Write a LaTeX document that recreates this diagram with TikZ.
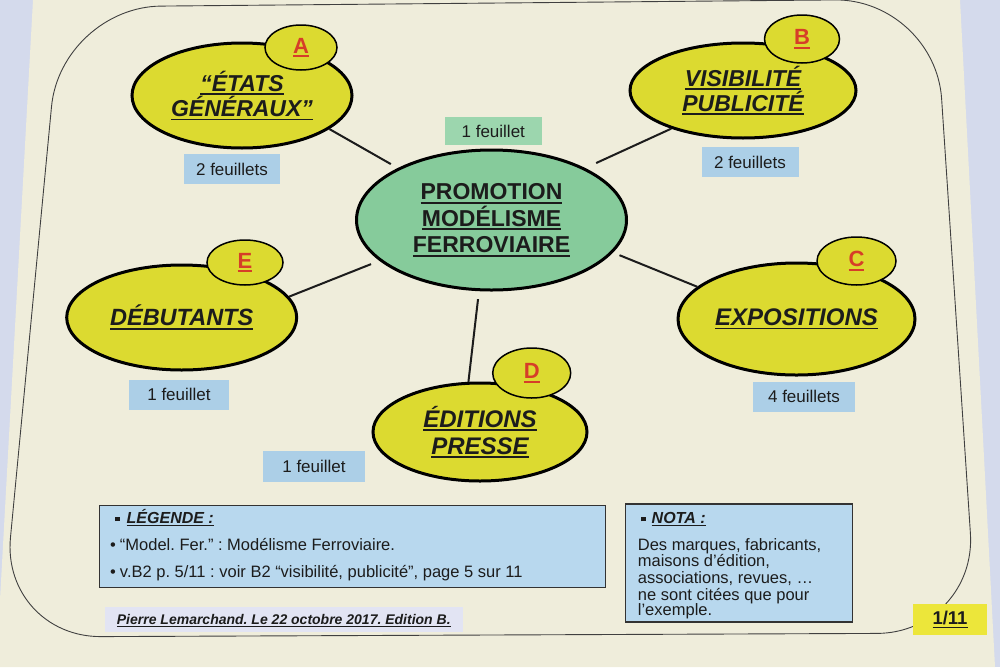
\documentclass[tikz,border=0pt]{standalone}
\usepackage{fontspec}
\setmainfont{Liberation Sans}
\usetikzlibrary{shapes.geometric}
\frenchspacing
\definecolor{paper}{RGB}{239,237,219}
\definecolor{bgblue}{RGB}{212,218,236}
\definecolor{ellyellow}{RGB}{220,218,48}
\definecolor{ellgreen}{RGB}{134,203,155}
\definecolor{lblblue}{RGB}{172,207,231}
\definecolor{lblgreen}{RGB}{156,214,174}
\definecolor{boxblue}{RGB}{184,216,238}
\definecolor{footbox}{RGB}{226,228,243}
\definecolor{pageyellow}{RGB}{236,230,58}
\definecolor{letterred}{RGB}{214,62,40}
\definecolor{ink}{RGB}{28,28,28}
\newcommand\myul[1]{\setbox0=\hbox{#1}\rlap{\rule[-4pt]{\wd0}{1.8pt}}\box0}
\newcommand\myulthin[1]{\setbox0=\hbox{#1}\rlap{\rule[-3pt]{\wd0}{1.1pt}}\box0}
\newcommand\sqbul{\rule[2pt]{4.5pt}{4.5pt}}
\tikzset{
  bigell/.style={ellipse, draw=black, line width=3pt, fill=ellyellow, inner sep=0pt,
    align=center, text=ink},
  letterell/.style={ellipse, draw=black, line width=1.5pt, fill=ellyellow, inner sep=0pt,
    text=letterred, font=\fontsize{22}{22}\selectfont\bfseries},
  lbl/.style={fill=lblblue, minimum width=100pt, minimum height=30pt, inner sep=0pt,
    text=ink, font=\fontsize{17}{17}\selectfont},
  conn/.style={line width=2pt, ink},
  frame/.style={draw=black!75, line width=0.9pt},
  infobox/.style={draw=black!80, line width=1.2pt, fill=boxblue, inner sep=0pt, anchor=north west},
  txt/.style={anchor=base west, inner sep=0pt, text=ink}
}
\begin{document}
\begin{tikzpicture}[x=1pt,y=-1pt]
\useasboundingbox (0,0) rectangle (1000,667);
% background and paper
\fill[bgblue] (0,0) rectangle (1000,667);
\fill[paper] (33,0) -- (960,0) -- (995,667) -- (0,667) -- (0,600) -- cycle;
% frame
\draw[frame, rounded corners=100pt] (500,3) -- (935,-1) -- (977,633) -- (1,637) -- (61,7) -- cycle;

% central ellipse
\node[bigell, fill=ellgreen, minimum width=270pt, minimum height=140pt,
  font=\fontsize{23}{26.5}\selectfont\bfseries] (M) at (491.5,220)
  {\myul{PROMOTION}\\\myul{MODÉLISME}\\\myul{FERROVIAIRE}};

% peripheral ellipses
\node[bigell, minimum width=220pt, minimum height=105pt,
  font=\fontsize{23}{22}\selectfont\bfseries\itshape] (A) at (242,95.5)
  {\myul{“ÉTATS}\\\myul{GÉNÉRAUX”}};
\node[bigell, minimum width=226pt, minimum height=95pt,
  font=\fontsize{23}{25}\selectfont\bfseries\itshape] (B) at (743,90.5)
  {\myul{VISIBILITÉ}\\\myul{PUBLICITÉ}};
\node[bigell, minimum width=230pt, minimum height=105pt,
  font=\fontsize{23.5}{25}\selectfont\bfseries\itshape] (E) at (181.7,317.5)
  {\myul{DÉBUTANTS}};
\node[bigell, minimum width=237pt, minimum height=112pt,
  font=\fontsize{24}{25}\selectfont\bfseries\itshape] (C) at (796.5,319)
  {\myul{EXPOSITIONS}};
\node[bigell, minimum width=214pt, minimum height=98pt,
  font=\fontsize{24}{27}\selectfont\bfseries\itshape] (D) at (480,432)
  {\myul{ÉDITIONS}\\\myul{PRESSE}};

% letter ellipses
\node[letterell, minimum width=72pt, minimum height=45pt] (LA) at (301,47.5) {\myul{A}};
\node[letterell, minimum width=75pt, minimum height=48pt] (LB) at (802,39) {\myul{B}};
\node[letterell, minimum width=76pt, minimum height=45pt] (LE) at (245,262.5) {\myul{E}};
\node[letterell, minimum width=79pt, minimum height=48pt] (LC) at (856.5,261) {\myul{C}};
\node[letterell, minimum width=78pt, minimum height=50pt] (LD) at (531.7,373) {\myul{D}};

% connectors
\draw[conn, shorten >=8pt] (A.339) -- (M.151);
\draw[conn, shorten >=12pt] (B.208) -- (M.29);
\draw[conn, shorten >=9pt] (E.11) -- (M.200);
\draw[conn, shorten >=7pt] (C.162) -- (M.345);
\draw[conn, shorten >=8pt] (D.103) -- (M.260);

% sheet counts
\node[lbl, minimum width=96pt] (fA) at (232,169) {2 feuillets};
\node[lbl, fill=lblgreen, minimum width=97pt, minimum height=28pt] (fM) at (493.3,131) {1 feuillet};
\node[lbl, minimum width=97pt] (fB) at (750,162) {2 feuillets};
\node[lbl] (fE) at (179,394.7) {1 feuillet};
\node[lbl, minimum width=102pt] (fC) at (804,396.7) {4 feuillets};
\node[lbl, minimum width=102pt, minimum height=31pt] (fD) at (314,466) {1 feuillet};

% legend
\node[infobox, minimum width=506pt, minimum height=82pt] (legend) at (99,505) {};
\node[txt, font=\fontsize{16}{16}\selectfont\bfseries\itshape] (legT) at (115,523)
  {\sqbul\hspace{7pt}\myulthin{LÉGENDE :}};
\node[txt, font=\fontsize{16.5}{16.5}\selectfont] (leg1) at (110,550)
  {•\hspace{4pt}“Model. Fer.” : Modélisme Ferroviaire.};
\node[txt, font=\fontsize{16.5}{16.5}\selectfont] (leg2) at (110,577.7)
  {•\hspace{4pt}v.B2 p. 5/11 : voir B2 “visibilité, publicité”, page 5 sur 11};

% nota
\node[infobox, minimum width=227pt, minimum height=118pt] (nota) at (625,503.3) {};
\node[txt, font=\fontsize{16}{16}\selectfont\bfseries\itshape] (notaT) at (641,523.3)
  {\sqbul\hspace{6pt}\myulthin{NOTA :}};
\node[txt, font=\fontsize{16.5}{16.5}\selectfont] (nota1) at (637.7,550) {Des marques, fabricants,};
\node[txt, font=\fontsize{16.5}{16.5}\selectfont] (nota2) at (637.7,566.7) {maisons d’édition,};
\node[txt, font=\fontsize{16.5}{16.5}\selectfont] (nota3) at (637.7,583.3) {associations, revues, …};
\node[txt, font=\fontsize{16.5}{16.5}\selectfont] (nota4) at (637.7,600) {ne sont citées que pour};
\node[txt, font=\fontsize{16.5}{16.5}\selectfont] (nota5) at (637.7,615.7) {l’exemple.};

% footer
\node[fill=footbox, minimum width=358pt, minimum height=25pt, inner sep=0pt, anchor=north west] (foot) at (105,606.7) {};
\node[txt, font=\fontsize{14}{14}\selectfont\bfseries\itshape] (footT) at (116.7,624)
  {\myulthin{Pierre Lemarchand. Le 22 octobre 2017. Edition B.}};

% page number
\node[fill=pageyellow, minimum width=74pt, minimum height=31pt, inner sep=0pt, text=ink,
  font=\fontsize{18.5}{18.5}\selectfont\bfseries] (page) at (950,619.5) {\myulthin{1/11}};
\end{tikzpicture}
\end{document}
